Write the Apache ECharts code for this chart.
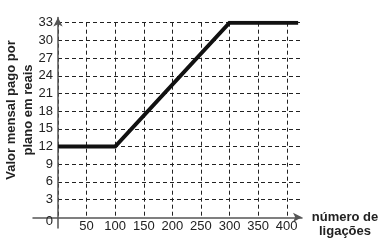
<!DOCTYPE html>
<html><head><meta charset="utf-8">
<script src="https://cdn.jsdelivr.net/npm/echarts@6/dist/echarts.min.js"></script>
<style>html,body{margin:0;padding:0;background:#fff}#c{width:382px;height:241px}</style>
</head><body><div id="c"></div>
<script>
// data
const xValues = [0, 100, 300, 420];
const yValues = [12, 12, 33, 33];
const xTickStep = 50, xMin = 0, xMax = 425, xGridMax = 400;
const yTickStep = 3, yMin = 0, yMax = 33;
const xTitle = 'número de\nligações';
const yTitle = 'Valor mensal pago por\nplano em reais';

const font = '"Liberation Sans", Arial, sans-serif';
const dash = { type: [4, 3], color: '#222', width: 1 };
const chart = echarts.init(document.getElementById('c'), null, { renderer: 'canvas' });
chart.setOption({
  animation: false,
  backgroundColor: '#fff',
  grid: [
    { left: 58, right: 81, top: 22.7, bottom: 23.7, containLabel: false, outerBoundsMode: 'none' },
    { left: 33, right: 80, top: 17.5, bottom: 13, containLabel: false, outerBoundsMode: 'none' },
    { left: 58, right: 95.2, top: 22.7, bottom: 23.7, containLabel: false, outerBoundsMode: 'none' }
  ],
  xAxis: [
    { type: 'value', gridIndex: 0, min: xMin, max: xMax, interval: xTickStep,
      axisLine: { show: false }, axisTick: { show: false },
      axisLabel: { margin: 3, fontFamily: font, fontSize: 13, color: '#222',
        showMinLabel: false, showMaxLabel: false, hideOverlap: false,
        formatter: v => (v > 0 && v <= xGridMax) ? String(v) : '' },
      splitLine: { show: false }
    },
    { type: 'value', gridIndex: 1, min: -25, max: 244,
      axisLine: { show: true, onZero: true, symbol: ['none', 'arrow'], symbolSize: [7, 9],
        lineStyle: { color: '#555', width: 1.5 } },
      axisTick: { show: false }, axisLabel: { show: false }, splitLine: { show: false } },
    { type: 'value', gridIndex: 2, min: xMin, max: xGridMax, interval: xTickStep,
      axisLine: { show: false }, axisTick: { show: false }, axisLabel: { show: false },
      splitLine: { show: true, lineStyle: dash } }
  ],
  yAxis: [
    { type: 'value', gridIndex: 0, min: yMin, max: yMax, interval: yTickStep,
      axisLine: { show: false }, axisTick: { show: false },
      axisLabel: { margin: 5, fontFamily: font, fontSize: 13, color: '#222', hideOverlap: false,
        formatter: v => v === 0 ? '{z|0}' : String(v),
        rich: { z: { fontFamily: font, fontSize: 13, color: '#222', padding: [9, 0, 0, 0] } } },
      splitLine: { show: true, lineStyle: dash, showMinLine: false }
    },
    { type: 'value', gridIndex: 1, min: -10.7, max: 199.8,
      axisLine: { show: true, onZero: true, symbol: ['none', 'arrow'], symbolSize: [7, 9],
        lineStyle: { color: '#555', width: 1.5 } },
      axisTick: { show: false }, axisLabel: { show: false }, splitLine: { show: false } },
    { type: 'value', gridIndex: 2, min: yMin, max: yMax, show: false }
  ],
  graphic: [
    { type: 'text', x: 19.5, y: 110, rotation: Math.PI / 2, z: 10,
      style: { text: yTitle, textAlign: 'center', textVerticalAlign: 'middle',
        font: 'bold 13px ' + font, lineHeight: 17, fill: '#222' } },
    { type: 'text', x: 345, y: 224.3, z: 10,
      style: { text: xTitle, textAlign: 'center', textVerticalAlign: 'middle',
        font: 'bold 13px ' + font, lineHeight: 13.5, fill: '#222' } }
  ],
  series: [{
    type: 'line', xAxisIndex: 0, yAxisIndex: 0,
    data: xValues.map((x, i) => [x, yValues[i]]),
    showSymbol: false, symbol: 'none', z: 5,
    lineStyle: { color: '#111', width: 4, join: 'miter' }
  }]
});
</script></body></html>
